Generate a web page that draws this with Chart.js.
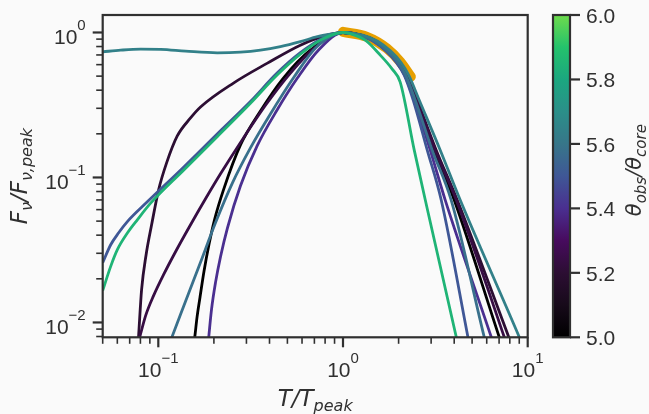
<!DOCTYPE html>
<html>
<head>
<meta charset="utf-8">
<title>Normalised light curves</title>
<script src="https://cdn.jsdelivr.net/npm/chart.js@4.4.1/dist/chart.umd.min.js"></script>
<style>
    html, body { margin: 0; padding: 0; background: #fafafa; }
    #wrap { width: 649px; height: 414px; }
</style>
</head>
<body>
<div id="wrap"><canvas id="lcChart" width="649" height="414"></canvas></div>
<script>
// ---- Data ----
// axis ranges
var xMin = 0.05, xMax = 10;
var yMin = 0.0079, yMax = 1.32;

// major ticks (value + exponent shown as 10^n)
var xMajorTicks = [0.1, 1, 10];
var xMajorExps = ['\u22121', '0', '1'];
var yMajorTicks = [0.01, 0.1, 1];
var yMajorExps = ['\u22122', '\u22121', '0'];

// colour bar
var cbarMin = 5.0, cbarMax = 6.0;
var cbarTicks = [5.0, 5.2, 5.4, 5.6, 5.8, 6.0];
var cbarTickLabels = ['5.0', '5.2', '5.4', '5.6', '5.8', '6.0'];
var cmapValues = [5.0, 5.1, 5.2, 5.3, 5.4, 5.5, 5.6, 5.7, 5.8, 5.9, 6.0];
var cmapColors = ['#000000', '#170a1a', '#2c0e33', '#470b5e', '#4a2f90', '#3f5796',
                  '#377689', '#2b8f89', '#1ba77f', '#24c26c', '#6edb4c'];

// theta_obs / theta_core of each curve (sets its colour)
var thetaValues = [5.0, 5.2, 5.24, 5.4, 5.5, 5.58, 5.64, 5.85];

// T / T_peak and F / F_peak for each curve
var t500 = [0.1557, 0.1577, 0.1621, 0.1682, 0.1768, 0.1882, 0.2015, 0.2254, 0.2786, 0.3573, 0.4757, 0.6657, 1.0,
            1.240, 1.494, 1.758, 1.990, 2.198, 2.490, 3.115, 3.996, 6.996, 7.354];
var f500 = [0.00705, 0.0080, 0.01088, 0.01493, 0.02254, 0.03458, 0.05107, 0.08215, 0.1676, 0.2873, 0.4848, 0.7552, 1.0,
            0.958, 0.8711, 0.7435, 0.6246, 0.5083, 0.3420, 0.1549, 0.07014, 0.0080, 0.006613];

var t520 = [0.0777, 0.0782, 0.0812, 0.0859, 0.0920, 0.1004, 0.1109, 0.1267, 0.1495, 0.1693, 0.2553, 0.3898, 0.5877, 0.8226, 1.0,
            1.256, 1.514, 1.780, 2.015, 2.226, 2.521, 3.193, 4.149, 7.873, 8.328];
var f520 = [0.00705, 0.0080, 0.01684, 0.02934, 0.04719, 0.08215, 0.1260, 0.1933, 0.2572, 0.3061, 0.4478, 0.6145, 0.8177, 0.9581, 1.0,
            0.958, 0.8711, 0.7435, 0.6246, 0.5083, 0.3420, 0.1549, 0.07014, 0.0080, 0.006613];

var t524 = [0.0774, 0.0795, 0.0854, 0.0943, 0.1068, 0.1240, 0.1495, 0.1802, 0.2172, 0.2891, 0.3849, 0.5191, 0.7085, 1.0,
            1.248, 1.504, 1.769, 2.003, 2.212, 2.506, 3.154, 4.098, 7.446, 7.824];
var f524 = [0.00705, 0.0080, 0.01115, 0.01531, 0.02136, 0.03075, 0.04719, 0.07124, 0.1059, 0.1873, 0.3210, 0.5247, 0.7922, 1.0,
            0.958, 0.8711, 0.7435, 0.6246, 0.5083, 0.3420, 0.1549, 0.07014, 0.0080, 0.006613];

var t540 = [0.1861, 0.1877, 0.1941, 0.2040, 0.2172, 0.2369, 0.2786, 0.3428, 0.4396, 0.5662, 0.7357, 1.0,
            1.217, 1.467, 1.725, 1.953, 2.158, 2.429, 2.964, 3.573, 6.334, 6.657];
var f540 = [0.00705, 0.0080, 0.01227, 0.01882, 0.02841, 0.04498, 0.08755, 0.1650, 0.2919, 0.4848, 0.7552, 1.0,
            0.958, 0.8711, 0.7435, 0.6246, 0.5083, 0.3420, 0.1549, 0.07014, 0.0080, 0.006613];

var t550 = [0.05, 0.05524, 0.0610, 0.0680, 0.08719, 0.1375, 0.2084, 0.3154, 0.4396, 0.5877, 0.7853, 1.0,
            1.210, 1.458, 1.714, 1.941, 2.145, 2.399, 2.856, 3.400, 4.740, 4.877];
var f550 = [0.02584, 0.03436, 0.04156, 0.04962, 0.06792, 0.1183, 0.1996, 0.3341, 0.5247, 0.7261, 0.9209, 1.0,
            0.958, 0.8711, 0.7435, 0.6246, 0.5083, 0.3420, 0.1549, 0.07014, 0.0080, 0.006613];

var t558 = [0.1143, 0.1190, 0.1405, 0.1693, 0.2040, 0.2521, 0.3154, 0.4046, 0.5385, 0.7173, 1.0,
            1.233, 1.485, 1.747, 1.978, 2.185, 2.459, 3.039, 3.849, 5.805, 6.026];
var f558 = [0.00705, 0.00804, 0.01401, 0.02600, 0.04869, 0.09181, 0.1599, 0.2740, 0.4848, 0.7922, 1.0,
            0.958, 0.8711, 0.7435, 0.6246, 0.5083, 0.3420, 0.1549, 0.07014, 0.0080, 0.006613];

var t564 = [0.05, 0.06254, 0.08021, 0.1029, 0.1405, 0.2084, 0.2786, 0.3573, 0.4582, 0.5877, 0.7266, 0.9087, 1.0,
            1.279, 1.542, 1.813, 2.053, 2.268, 2.585, 3.357, 4.306, 8.974, 9.550];
var f564 = [0.7356, 0.7552, 0.7676, 0.7651, 0.7435, 0.7239, 0.7318, 0.7552, 0.7986, 0.8642, 0.9357, 0.9843, 1.0,
            0.958, 0.8711, 0.7435, 0.6246, 0.5083, 0.3420, 0.1549, 0.07014, 0.0080, 0.006613];

var t585 = [0.05, 0.05524, 0.06003, 0.0680, 0.07699, 0.09087, 0.1375, 0.2084, 0.3154, 0.4396, 0.5877, 0.7853, 1.0,
            1.095, 1.320, 1.591, 1.847, 2.040, 2.429, 2.891, 4.098, 4.253];
var f585 = [0.01658, 0.02436, 0.03176, 0.04136, 0.05107, 0.06652, 0.1128, 0.1912, 0.3246, 0.5083, 0.7090, 0.9093, 1.0,
            0.981, 0.885, 0.698, 0.559, 0.455, 0.1549, 0.05706, 0.0080, 0.00651];

// highlighted (observed) segment near the peak
var tObs = [1.0, 1.348, 1.729, 2.04, 2.33];
var fObs = [1.01, 0.933, 0.776, 0.628, 0.495];

var curveT = [t500, t520, t524, t540, t550, t558, t564, t585];
var curveF = [f500, f520, f524, f540, f550, f558, f564, f585];

// ---- Styling ----
var INK = '#303030';
var TICK_FONT = '21px "Liberation Sans", Arial, sans-serif';
var EXP_FONT = '15px "Liberation Sans", Arial, sans-serif';
var MATH_FONT = 'italic 23px "DejaVu Sans", sans-serif';
var MATH_SUB = 'italic 16px "DejaVu Sans", sans-serif';
var CB_FONT = 'italic 21px "DejaVu Sans", sans-serif';
var CB_SUB = 'italic 15px "DejaVu Sans", sans-serif';

function hexToRgb(h) {
    return [parseInt(h.substr(1, 2), 16), parseInt(h.substr(3, 2), 16), parseInt(h.substr(5, 2), 16)];
}

function cmapColor(v) {
    for (var i = 0; i < cmapValues.length - 1; i++) {
        if (v <= cmapValues[i + 1]) {
            var f = (v - cmapValues[i]) / (cmapValues[i + 1] - cmapValues[i]);
            var a = hexToRgb(cmapColors[i]), b = hexToRgb(cmapColors[i + 1]);
            var c = a.map(function (x, k) { return Math.round(x + (b[k] - x) * f); });
            return 'rgb(' + c.join(',') + ')';
        }
    }
    return cmapColors[cmapColors.length - 1];
}

function toPoints(ts, fs) {
    return ts.map(function (t, i) { return { x: t, y: fs[i] }; });
}

function minorTicks(min, max) {
    var out = [];
    for (var e = Math.floor(Math.log10(min)); e <= Math.ceil(Math.log10(max)); e++) {
        for (var k = 2; k <= 9; k++) {
            var v = k * Math.pow(10, e);
            if (v >= min * 0.999 && v <= max * 1.001) out.push(v);
        }
    }
    return out;
}

// draws a row of text pieces (used for superscripts / subscripts)
function textRuns(ctx, runs, x, y, align) {
    var widths = runs.map(function (r) { ctx.font = r.font; return ctx.measureText(r.text).width; });
    var total = widths.reduce(function (a, b) { return a + b; }, 0);
    var cx = align === 'center' ? x - total / 2 : (align === 'right' ? x - total : x);
    runs.forEach(function (r, i) {
        ctx.font = r.font;
        ctx.fillText(r.text, cx, y + (r.dy || 0));
        cx += widths[i];
    });
}

var datasets = [];
curveT.forEach(function (ts, i) {
    datasets.push({
        label: '\u03b8 = ' + thetaValues[i],
        data: toPoints(ts, curveF[i]),
        borderColor: cmapColor(thetaValues[i]),
        borderWidth: 2.8,
        pointRadius: 0,
        fill: false,
        cubicInterpolationMode: 'monotone',
        order: curveT.length - i
    });
});
datasets.push({
    label: 'observed',
    data: toPoints(tObs, fObs),
    borderColor: '#e69f00',
    borderWidth: 10,
    borderCapStyle: 'round',
    pointRadius: 0,
    fill: false,
    cubicInterpolationMode: 'monotone',
    order: 100
});

// ---- Axes, frame and colour bar drawn on top through the chart scales ----
var axesPlugin = {
    id: 'axesPlugin',
    afterDraw: function (chart) {
        var ctx = chart.ctx;
        var area = chart.chartArea;
        var xs = chart.scales.x, ys = chart.scales.y;
        ctx.save();
        ctx.strokeStyle = INK;
        ctx.fillStyle = INK;
        ctx.lineCap = 'butt';

        // frame
        ctx.lineWidth = 2.2;
        ctx.strokeRect(area.left, area.top, area.right - area.left, area.bottom - area.top);

        // x ticks
        minorTicks(xMin, xMax).forEach(function (v) {
            var px = xs.getPixelForValue(v);
            ctx.lineWidth = 1.6;
            ctx.beginPath(); ctx.moveTo(px, area.bottom); ctx.lineTo(px, area.bottom + 6.5); ctx.stroke();
        });
        xMajorTicks.forEach(function (v, i) {
            var px = xs.getPixelForValue(v);
            ctx.lineWidth = 2.2;
            ctx.beginPath(); ctx.moveTo(px, area.bottom); ctx.lineTo(px, area.bottom + 10); ctx.stroke();
            textRuns(ctx, [{ text: '10', font: TICK_FONT }, { text: xMajorExps[i], font: EXP_FONT, dy: -14 }],
                px, area.bottom + 39.5, 'center');
        });

        // y ticks
        minorTicks(yMin, yMax).forEach(function (v) {
            var py = ys.getPixelForValue(v);
            ctx.lineWidth = 1.6;
            ctx.beginPath(); ctx.moveTo(area.left, py); ctx.lineTo(area.left - 6.5, py); ctx.stroke();
        });
        yMajorTicks.forEach(function (v, i) {
            var py = ys.getPixelForValue(v);
            ctx.lineWidth = 2.2;
            ctx.beginPath(); ctx.moveTo(area.left, py); ctx.lineTo(area.left - 10, py); ctx.stroke();
            textRuns(ctx, [{ text: '10', font: TICK_FONT }, { text: yMajorExps[i], font: EXP_FONT, dy: -14 }],
                area.left - 17, py + 11.5, 'right');
        });

        // axis titles
        textRuns(ctx, [
            { text: 'T/T', font: MATH_FONT },
            { text: 'peak', font: MATH_SUB, dy: 5 }
        ], (area.left + area.right) / 2, area.bottom + 69, 'center');

        ctx.save();
        ctx.translate(27, (area.top + area.bottom) / 2);
        ctx.rotate(-Math.PI / 2);
        textRuns(ctx, [
            { text: 'F', font: MATH_FONT },
            { text: '\u03bd', font: MATH_SUB, dy: 5 },
            { text: '/F', font: MATH_FONT },
            { text: '\u03bd,peak', font: MATH_SUB, dy: 5 }
        ], 0, 0, 'center');
        ctx.restore();

        // colour bar
        var cbLeft = area.right + 25.3, cbRight = cbLeft + 17;
        var cbTop = area.top, cbBottom = area.bottom;
        var grad = ctx.createLinearGradient(0, cbBottom, 0, cbTop);
        cmapValues.forEach(function (v, i) {
            grad.addColorStop((v - cbarMin) / (cbarMax - cbarMin), cmapColors[i]);
        });
        ctx.fillStyle = grad;
        ctx.fillRect(cbLeft, cbTop, cbRight - cbLeft, cbBottom - cbTop);
        ctx.lineWidth = 2.2;
        ctx.strokeRect(cbLeft, cbTop, cbRight - cbLeft, cbBottom - cbTop);
        ctx.fillStyle = INK;
        ctx.font = TICK_FONT;
        ctx.textAlign = 'left';
        cbarTicks.forEach(function (v, i) {
            var py = cbBottom - (v - cbarMin) / (cbarMax - cbarMin) * (cbBottom - cbTop);
            ctx.beginPath(); ctx.moveTo(cbRight, py); ctx.lineTo(cbRight + 10, py); ctx.stroke();
            ctx.fillText(cbarTickLabels[i], cbRight + 16, py + 7.7);
        });

        ctx.save();
        ctx.translate(cbRight + 71, (cbTop + cbBottom) / 2 - 6);
        ctx.rotate(-Math.PI / 2);
        textRuns(ctx, [
            { text: '\u03b8', font: CB_FONT },
            { text: 'obs', font: CB_SUB, dy: 4.5 },
            { text: '/\u03b8', font: CB_FONT },
            { text: 'core', font: CB_SUB, dy: 4.5 }
        ], 0, 0, 'center');
        ctx.restore();

        ctx.restore();
    }
};

var lcChart = new Chart(document.getElementById('lcChart'), {
    type: 'line',
    data: { datasets: datasets },
    options: {
        responsive: false,
        animation: false,
        layout: { padding: { left: 102.7, right: 121.3, top: 15, bottom: 76.7 } },
        scales: {
            x: { type: 'logarithmic', min: xMin, max: xMax, display: false },
            y: { type: 'logarithmic', min: yMin, max: yMax, display: false }
        },
        plugins: {
            legend: { display: false },
            tooltip: { enabled: false }
        }
    },
    plugins: [axesPlugin]
});
</script>
</body>
</html>
